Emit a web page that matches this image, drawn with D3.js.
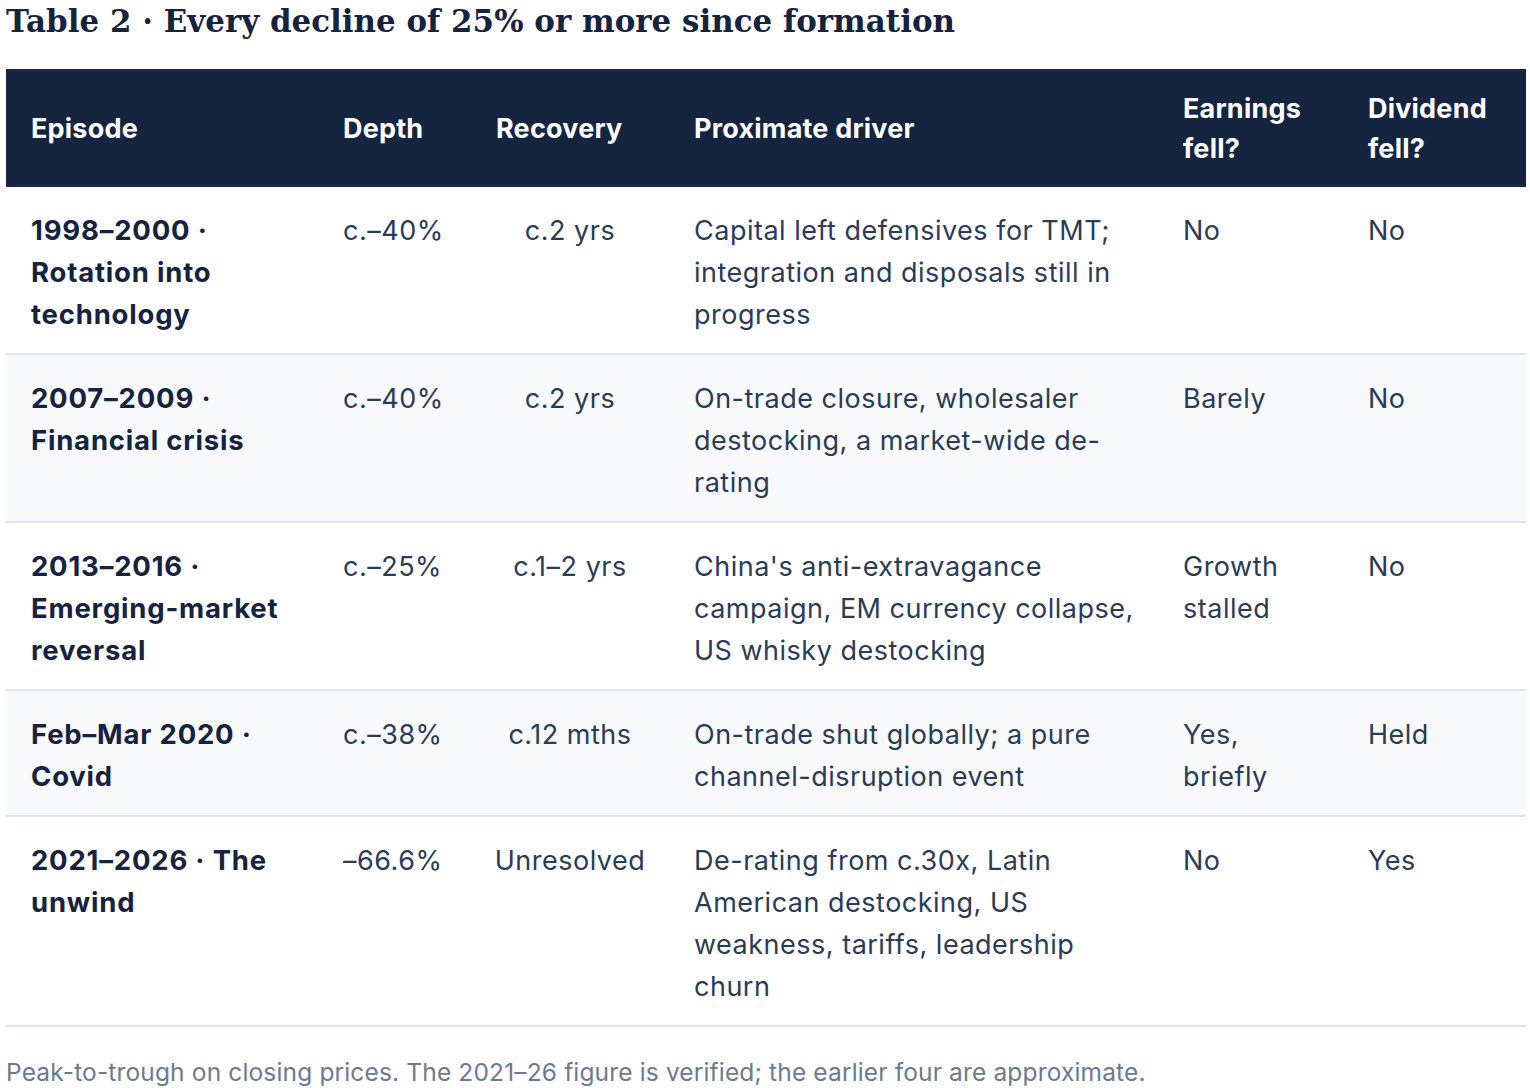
<!DOCTYPE html>
<html>
<head>
<meta charset="utf-8">
<script src="https://cdn.jsdelivr.net/npm/d3@7"></script>
<style>
  body { margin: 0; background: #fff; }
  svg { display: block; }
</style>
</head>
<body>
<svg width="1530" height="1088"></svg>
<script>
const title = 'Table 2 · Every decline of 25% or more since formation';
const footnote = 'Peak-to-trough on closing prices. The 2021–26 figure is verified; the earlier four are approximate.';

const headers = [['Episode'], ['Depth'], ['Recovery'], ['Proximate driver'], ['Earnings', 'fell?'], ['Dividend', 'fell?']];

const episodes = [
  ['1998–2000 ·', 'Rotation into', 'technology'],
  ['2007–2009 ·', 'Financial crisis'],
  ['2013–2016 ·', 'Emerging-market', 'reversal'],
  ['Feb–Mar 2020 ·', 'Covid'],
  ['2021–2026 · The', 'unwind']
];
const depths = ['c.–40%', 'c.–40%', 'c.–25%', 'c.–38%', '–66.6%'];
const recoveries = ['c.2 yrs', 'c.2 yrs', 'c.1–2 yrs', 'c.12 mths', 'Unresolved'];
const drivers = [
  ['Capital left defensives for TMT;', 'integration and disposals still in', 'progress'],
  ['On-trade closure, wholesaler', 'destocking, a market-wide de-', 'rating'],
  ["China's anti-extravagance", 'campaign, EM currency collapse,', 'US whisky destocking'],
  ['On-trade shut globally; a pure', 'channel-disruption event'],
  ['De-rating from c.30x, Latin', 'American destocking, US', 'weakness, tariffs, leadership', 'churn']
];
const earningsFell = [['No'], ['Barely'], ['Growth', 'stalled'], ['Yes,', 'briefly'], ['No']];
const dividendFell = ['No', 'No', 'No', 'Held', 'Yes'];

const svg = d3.select('svg');

const font = 'Inter, "Noto Sans", sans-serif';
const tableLeft = 6;
const tableRight = 1526;
const headerTop = 69;
const headerHeight = 118;
const lineHeight = 42;
const cellPad = 21;

// column anchors: x and text-anchor
const columns = [
  { x: 31, anchor: 'start', bold: true },
  { x: 343, anchor: 'start' },
  { x: 570, anchor: 'middle', headerX: 496 },
  { x: 694, anchor: 'start' },
  { x: 1183, anchor: 'start' },
  { x: 1368, anchor: 'start' }
];

const rows = episodes.map((ep, i) => {
  const cells = [ep, [depths[i]], [recoveries[i]], drivers[i], earningsFell[i], [dividendFell[i]]];
  const lines = d3.max(cells, c => c.length);
  return { cells, height: lines * lineHeight + cellPad * 2 };
});
const rowTops = [headerTop + headerHeight];
rows.forEach((r, i) => rowTops.push(rowTops[i] + r.height));

// title
svg.append('text')
  .attr('x', 6)
  .attr('y', 32)
  .attr('font-family', '"DejaVu Serif", "Liberation Serif", serif')
  .attr('font-weight', 700)
  .attr('font-size', 31)
  .attr('fill', '#16233f')
  .attr('textLength', 949)
  .attr('lengthAdjust', 'spacingAndGlyphs')
  .text(title);

// header
svg.append('rect')
  .attr('x', tableLeft)
  .attr('y', headerTop)
  .attr('width', tableRight - tableLeft)
  .attr('height', headerHeight)
  .attr('fill', '#16253f');

const headerG = svg.append('g');
headers.forEach((h, ci) => {
  const col = columns[ci];
  const cy = headerTop + headerHeight / 2;
  headerG.append('text')
    .attr('x', col.headerX || col.x)
    .attr('font-family', font)
    .attr('font-weight', 700)
    .attr('font-size', 27)
    .attr('letter-spacing', 0.2)
    .attr('fill', '#ffffff')
    .selectAll('tspan')
    .data(h)
    .join('tspan')
      .attr('x', col.headerX || col.x)
      .attr('y', (d, i) => cy + (i - (h.length - 1) / 2) * 40)
      .attr('dy', '0.36em')
      .text(d => d);
});

// body rows
const rowG = svg.selectAll('g.row')
  .data(rows)
  .join('g')
    .attr('class', 'row')
    .attr('transform', (d, i) => `translate(0,${rowTops[i]})`);

rowG.append('rect')
  .attr('x', tableLeft)
  .attr('y', 0)
  .attr('width', tableRight - tableLeft)
  .attr('height', d => d.height)
  .attr('fill', (d, i) => i % 2 ? '#f7f9fb' : '#ffffff');

rowG.append('line')
  .attr('x1', tableLeft)
  .attr('x2', tableRight)
  .attr('y1', d => d.height - 1)
  .attr('y2', d => d.height - 1)
  .attr('stroke', '#dfe4ec')
  .attr('stroke-width', 2);

rowG.each(function(r) {
  const g = d3.select(this);
  r.cells.forEach((lines, ci) => {
    const col = columns[ci];
    g.append('text')
      .attr('font-family', font)
      .attr('font-size', col.bold ? 27.5 : 27)
      .attr('letter-spacing', col.bold ? 0.8 : 0.5)
      .attr('font-weight', col.bold ? 700 : 400)
      .attr('fill', col.bold ? '#16233f' : '#2b3b57')
      .attr('text-anchor', col.anchor)
      .selectAll('tspan')
      .data(lines)
      .join('tspan')
        .attr('x', col.x)
        .attr('y', (d, i) => cellPad + lineHeight / 2 + i * lineHeight + 1)
        .attr('dy', '0.36em')
        .text(d => d);
  });
});

// footnote
svg.append('text')
  .attr('x', 6)
  .attr('y', 1072)
  .attr('dy', '0.36em')
  .attr('font-family', font)
  .attr('font-size', 24.5)
  .attr('letter-spacing', 0.15)
  .attr('fill', '#6b7a90')
  .text(footnote);
</script>
</body>
</html>
